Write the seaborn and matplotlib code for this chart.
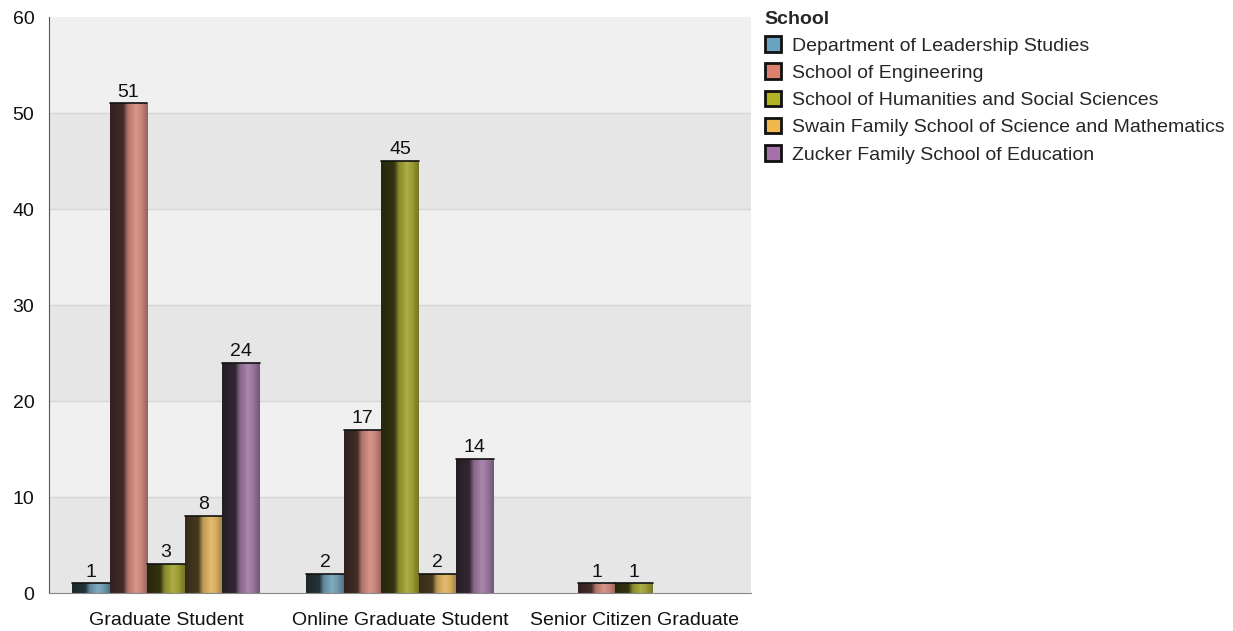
import numpy as np
import pandas as pd
import matplotlib
matplotlib.use("Agg")
import matplotlib.pyplot as plt
import matplotlib.colors as mcolors
import seaborn as sns

sns.set_style("white")
plt.rcParams['font.family'] = ['Liberation Sans', 'DejaVu Sans']

# data
categories = ["Graduate Student", "Online Graduate Student", "Senior Citizen Graduate"]
schools = ["Department of Leadership Studies", "School of Engineering",
           "School of Humanities and Social Sciences",
           "Swain Family School of Science and Mathematics",
           "Zucker Family School of Education"]
leadership = [1, 2, None]
engineering = [51, 17, 1]
humanities = [3, 45, 1]
swain = [8, 2, None]
zucker = [24, 14, None]
colors = ["#68a3c0", "#dc8070", "#b3b424", "#f0b84c", "#a472a8"]

rows = []
for school, vals in zip(schools, [leadership, engineering, humanities, swain, zucker]):
    for cat, v in zip(categories, vals):
        if v is not None:
            rows.append({"Level": cat, "School": school, "Count": v})
df = pd.DataFrame(rows)

fig, ax = plt.subplots(figsize=(12.33, 6.31), dpi=100)
fig.subplots_adjust(left=49/1233, right=751/1233, top=1-17/631, bottom=1-593/631)

# alternating background bands + grid
ax.set_facecolor("#f0f0f0")
for lo in range(0, 60, 20):
    ax.axhspan(lo, lo + 10, color="#e6e6e6", zorder=0, lw=0)
for y in range(10, 60, 10):
    ax.axhline(y, color="#d6d6d6", lw=1, zorder=0.5)

sns.barplot(data=df, x="Level", y="Count", hue="School", order=categories,
            hue_order=schools, palette=colors, width=0.8, ax=ax,
            edgecolor="none", linewidth=0, legend=False, zorder=2)

# shading profile: dark on the left, bright towards right, slightly darker at edge
t = np.linspace(0, 1, 64)
prof = np.interp(t, [0, 0.35, 0.47, 0.68, 0.82, 1.0], [0.24, 0.32, 0.85, 1.06, 0.98, 0.72])

for cont in ax.containers:
    for p in cont.patches:
        h = p.get_height()
        if not np.isfinite(h) or h <= 0:
            continue
        rgb = np.array(mcolors.to_rgb(p.get_facecolor()))
        img = np.zeros((1, len(t), 3))
        for i, f in enumerate(prof):
            if f <= 1:
                img[0, i] = rgb * f
            else:
                img[0, i] = rgb + (1 - rgb) * (f - 1) * 2
        x0, w = p.get_x(), p.get_width()
        im = ax.imshow(np.clip(img, 0, 1), extent=[x0, x0 + w, 0, h], aspect="auto",
                       interpolation="bilinear", zorder=2.5)
        im.set_clip_path(p)
        ax.plot([x0, x0 + w], [h, h], color="#111111", lw=1.2, zorder=3)
        ax.text(x0 + w / 2, h + 0.3, f"{int(h)}", ha="center", va="bottom",
                fontsize=14, color="#111111", zorder=4)

ax.set_xlim(-0.5, 2.5)
ax.set_ylim(0, 60)
ax.set_yticks(range(0, 61, 10))
ax.set_xlabel("")
ax.set_ylabel("")
ax.tick_params(axis="both", labelsize=14, colors="#111111", length=7.5, width=1,
               direction="out")
ax.tick_params(axis="x", color="#666666", pad=6)
ax.tick_params(axis="y", color="#444444", pad=3)
for s in ["top", "right"]:
    ax.spines[s].set_visible(False)
ax.spines["left"].set_color("#555555")
ax.spines["bottom"].set_color("#888888")

# legend
handles = [plt.Rectangle((0, 0), 1, 1, facecolor=c, edgecolor="#111111", lw=2)
           for c in colors]
leg = fig.legend(handles, schools, title="School", loc="upper left",
                 bbox_to_anchor=(747/1233, 1 + 7/631), frameon=False,
                 fontsize=14, title_fontsize=14, handlelength=0.85,
                 handleheight=0.85, handletextpad=0.55, labelspacing=0.45,
                 alignment="left")
leg.get_title().set_fontweight("bold")

fig.savefig("out.png", dpi=100)
